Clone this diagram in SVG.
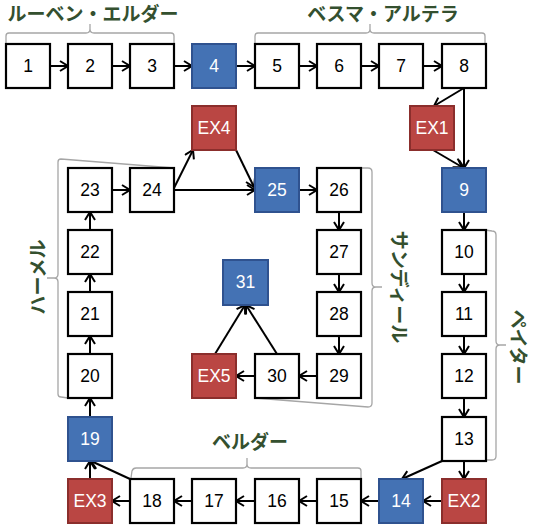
<svg xmlns="http://www.w3.org/2000/svg" width="535" height="528" viewBox="0 0 535 528">
<style>
.w rect{fill:#fff;stroke:#000;stroke-width:2.2}
.b rect{fill:#4472B4;stroke:#2F528F;stroke-width:2}
.r rect{fill:#BA4643;stroke:#8B2E2C;stroke-width:2}
.n text{font-family:"Liberation Sans",Arial,sans-serif;font-size:17.5px;text-anchor:middle;fill:#000}
.b text,.r text{fill:#fff}
.lbl{font-family:"Noto Sans CJK JP",sans-serif;font-size:19px;font-weight:bold;fill:#34502F;text-anchor:middle}
.br{fill:none;stroke:#A6A6A6;stroke-width:1.3}
#connectors line{stroke:#000;stroke-width:2;marker-end:url(#ah)}
</style>
<defs>
<marker id="ah" markerUnits="userSpaceOnUse" markerWidth="12" markerHeight="12" refX="10" refY="6" orient="auto">
<path d="M2,1 L10,6 L2,11" fill="none" stroke="#000" stroke-width="2"/>
</marker>
</defs>
<rect width="535" height="528" fill="#fff"/>

<g id="brackets">
<path class="br" d="M6,44 L6,36 Q6,33 9,33 L86,33 Q90,33 90,29 L90,24 M90,24 L90,29 Q90,33 94,33 L171,33 Q174,33 174,36 L174,44"/>
<path class="br" d="M255,44 L255,36 Q255,33 258,33 L366,33 Q370,33 370,29 L370,24 M370,24 L370,29 Q370,33 374,33 L482,33 Q485,33 485,36 L485,44"/>
<path class="br" d="M131,478 L132,471 Q133,468 136,468 L243,468 Q247,468 247,464 L247,458 M247,458 L247,464 Q247,468 251,468 L358,468 Q361,468 361,471 L361,478"/>
<path class="br" d="M174,168 L61,159 Q58,159 58,162 L58,274 Q58,278 54,278 L47,278 M47,278 L54,278 Q58,278 58,282 L58,394 Q58,397 61,397 L68,398"/>
<path class="br" d="M361,168 L368,168 Q372,168 372,172 L372,283 Q372,287 376,287 L382,287 M382,287 L376,287 Q372,287 372,291 L372,403 Q372,407 368,407 L255,398"/>
<path class="br" d="M485,230 L492,231 Q496,231 496,235 L496,341 Q496,345 500,345 L506,345 M506,345 L500,345 Q496,345 496,349 L496,456 Q496,460 492,460 L485,460"/>
</g>

<g id="labels">
<text class="lbl" x="93" y="21">ルーベン・エルダー</text>
<text class="lbl" x="383" y="21">ベスマ・アルテラ</text>
<text class="lbl" x="250" y="449">ベルダー</text>
<text class="lbl" x="0" y="0" dominant-baseline="central" transform="translate(36,277) rotate(-90)">ハーメル</text>
<text class="lbl" x="0" y="0" dominant-baseline="central" transform="translate(400,287) rotate(90)">サンディール</text>
<text class="lbl" x="0" y="0" dominant-baseline="central" transform="translate(519,347) rotate(90)">ペイター</text>
</g>

<g id="connectors">
<line x1="50" y1="66" x2="68" y2="66"/>
<line x1="112" y1="66" x2="130" y2="66"/>
<line x1="174" y1="66" x2="192" y2="66"/>
<line x1="236" y1="66" x2="255" y2="66"/>
<line x1="299" y1="66" x2="317" y2="66"/>
<line x1="361" y1="66" x2="379" y2="66"/>
<line x1="423" y1="66" x2="442" y2="66"/>
<line x1="464" y1="88" x2="434" y2="106"/>
<line x1="464" y1="88" x2="464" y2="168"/>
<line x1="433" y1="150" x2="462" y2="167"/>
<line x1="464" y1="212" x2="464" y2="230"/>
<line x1="464" y1="274" x2="464" y2="292"/>
<line x1="464" y1="336" x2="464" y2="354"/>
<line x1="464" y1="398" x2="464" y2="417"/>
<line x1="464" y1="461" x2="464" y2="479"/>
<line x1="442" y1="461" x2="402" y2="479"/>
<line x1="442" y1="501" x2="423" y2="501"/>
<line x1="379" y1="501" x2="361" y2="501"/>
<line x1="317" y1="501" x2="299" y2="501"/>
<line x1="255" y1="501" x2="236" y2="501"/>
<line x1="192" y1="501" x2="174" y2="501"/>
<line x1="130" y1="501" x2="112" y2="501"/>
<line x1="130" y1="479" x2="91" y2="461"/>
<line x1="90" y1="479" x2="90" y2="461"/>
<line x1="90" y1="417" x2="90" y2="398"/>
<line x1="90" y1="354" x2="90" y2="336"/>
<line x1="90" y1="292" x2="90" y2="274"/>
<line x1="90" y1="230" x2="90" y2="212"/>
<line x1="112" y1="190" x2="130" y2="190"/>
<line x1="174" y1="188" x2="193" y2="150"/>
<line x1="174" y1="190" x2="255" y2="190"/>
<line x1="236" y1="150" x2="254" y2="187"/>
<line x1="299" y1="190" x2="317" y2="190"/>
<line x1="339" y1="212" x2="339" y2="230"/>
<line x1="339" y1="274" x2="339" y2="292"/>
<line x1="339" y1="336" x2="339" y2="354"/>
<line x1="317" y1="376" x2="299" y2="376"/>
<line x1="255" y1="376" x2="236" y2="376"/>
<line x1="277" y1="354" x2="246" y2="305"/>
<line x1="215" y1="354" x2="245" y2="305"/>
</g>

<g id="n1" class="n w"><rect x="6" y="44" width="44" height="44"/><text x="28" y="72">1</text></g>
<g id="n2" class="n w"><rect x="68" y="44" width="44" height="44"/><text x="90" y="72">2</text></g>
<g id="n3" class="n w"><rect x="130" y="44" width="44" height="44"/><text x="152" y="72">3</text></g>
<g id="n4" class="n b"><rect x="192" y="44" width="44" height="44"/><text x="214" y="72">4</text></g>
<g id="n5" class="n w"><rect x="255" y="44" width="44" height="44"/><text x="277" y="72">5</text></g>
<g id="n6" class="n w"><rect x="317" y="44" width="44" height="44"/><text x="339" y="72">6</text></g>
<g id="n7" class="n w"><rect x="379" y="44" width="44" height="44"/><text x="401" y="72">7</text></g>
<g id="n8" class="n w"><rect x="442" y="44" width="44" height="44"/><text x="464" y="72">8</text></g>
<g id="ex1" class="n r"><rect x="410" y="106" width="44" height="44"/><text x="432" y="134">EX1</text></g>
<g id="n9" class="n b"><rect x="442" y="168" width="44" height="44"/><text x="464" y="196">9</text></g>
<g id="n10" class="n w"><rect x="442" y="230" width="44" height="44"/><text x="464" y="258">10</text></g>
<g id="n11" class="n w"><rect x="442" y="292" width="44" height="44"/><text x="464" y="320">11</text></g>
<g id="n12" class="n w"><rect x="442" y="354" width="44" height="44"/><text x="464" y="382">12</text></g>
<g id="n13" class="n w"><rect x="442" y="417" width="44" height="44"/><text x="464" y="445">13</text></g>
<g id="ex2" class="n r"><rect x="442" y="479" width="44" height="44"/><text x="464" y="507">EX2</text></g>
<g id="n14" class="n b"><rect x="379" y="479" width="44" height="44"/><text x="401" y="507">14</text></g>
<g id="n15" class="n w"><rect x="317" y="479" width="44" height="44"/><text x="339" y="507">15</text></g>
<g id="n16" class="n w"><rect x="255" y="479" width="44" height="44"/><text x="277" y="507">16</text></g>
<g id="n17" class="n w"><rect x="192" y="479" width="44" height="44"/><text x="214" y="507">17</text></g>
<g id="n18" class="n w"><rect x="130" y="479" width="44" height="44"/><text x="152" y="507">18</text></g>
<g id="ex3" class="n r"><rect x="68" y="479" width="44" height="44"/><text x="90" y="507">EX3</text></g>
<g id="n19" class="n b"><rect x="68" y="417" width="44" height="44"/><text x="90" y="445">19</text></g>
<g id="n20" class="n w"><rect x="68" y="354" width="44" height="44"/><text x="90" y="382">20</text></g>
<g id="n21" class="n w"><rect x="68" y="292" width="44" height="44"/><text x="90" y="320">21</text></g>
<g id="n22" class="n w"><rect x="68" y="230" width="44" height="44"/><text x="90" y="258">22</text></g>
<g id="n23" class="n w"><rect x="68" y="168" width="44" height="44"/><text x="90" y="196">23</text></g>
<g id="n24" class="n w"><rect x="130" y="168" width="44" height="44"/><text x="152" y="196">24</text></g>
<g id="ex4" class="n r"><rect x="192" y="106" width="44" height="44"/><text x="214" y="134">EX4</text></g>
<g id="n25" class="n b"><rect x="255" y="168" width="44" height="44"/><text x="277" y="196">25</text></g>
<g id="n26" class="n w"><rect x="317" y="168" width="44" height="44"/><text x="339" y="196">26</text></g>
<g id="n27" class="n w"><rect x="317" y="230" width="44" height="44"/><text x="339" y="258">27</text></g>
<g id="n28" class="n w"><rect x="317" y="292" width="44" height="44"/><text x="339" y="320">28</text></g>
<g id="n29" class="n w"><rect x="317" y="354" width="44" height="44"/><text x="339" y="382">29</text></g>
<g id="n30" class="n w"><rect x="255" y="354" width="44" height="44"/><text x="277" y="382">30</text></g>
<g id="ex5" class="n r"><rect x="192" y="354" width="44" height="44"/><text x="214" y="382">EX5</text></g>
<g id="n31" class="n b"><rect x="223" y="260" width="45" height="45"/><text x="245.5" y="288">31</text></g>
</svg>
